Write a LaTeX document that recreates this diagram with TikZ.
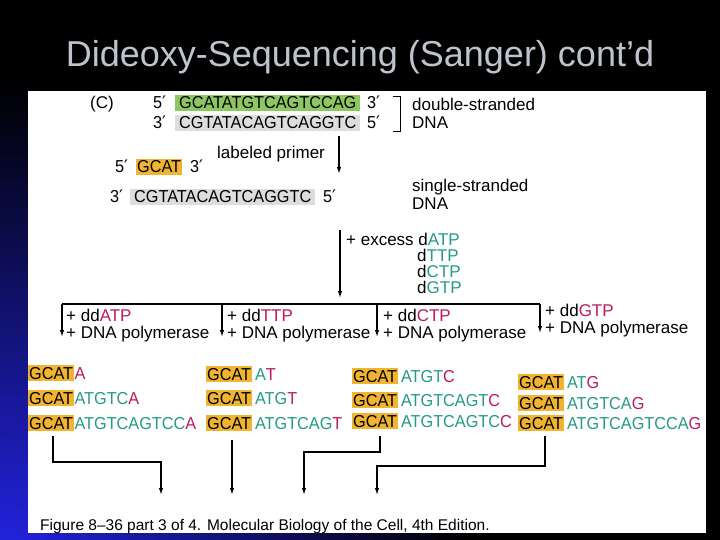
\documentclass[tikz,border=0pt]{standalone}
\usepackage{fontspec}
\setmainfont{Liberation Sans}
\newfontfamily\djv{DejaVu Sans}
\newfontfamily\seqfont[FakeStretch=0.94]{Liberation Sans}
\usetikzlibrary{arrows.meta}
\definecolor{orangeb}{RGB}{240,180,48}
\definecolor{greenb}{RGB}{140,200,95}
\definecolor{grayb}{RGB}{221,221,221}
\definecolor{tealc}{RGB}{35,155,135}
\definecolor{crimc}{RGB}{190,25,95}
\definecolor{titlec}{RGB}{190,195,205}
\definecolor{bgblue}{RGB}{35,35,225}
\newcommand{\seqT}[1]{\textcolor{tealc}{#1}}
\newcommand{\seqC}[1]{\textcolor{crimc}{#1}}
\newcommand{\pr}{{\djv ′}}
\begin{document}
\begin{tikzpicture}[x=1pt,y=-1pt,
  lab/.style={font=\fontsize{17}{17}\selectfont, inner sep=0pt, anchor=base west},
  seqt/.style={font=\seqfont\fontsize{17.3}{17}\selectfont, inner sep=0pt, anchor=base west},
  hbox/.style={seqt, inner xsep=4pt, inner ysep=1.8pt, text height=12.4pt, text depth=0pt},
  gcat/.style={seqt, fill=orangeb, inner xsep=1pt, inner ysep=1.8pt, text height=12.4pt, text depth=0pt},
  arr/.style={draw=black, line width=1.3pt, -{Latex[length=7pt,width=4.5pt]}},
  ln/.style={draw=black, line width=1.3pt},
  titlestyle/.style={font=\fontsize{36}{36}\selectfont, text=titlec, inner sep=0pt, anchor=base}]
\useasboundingbox (0,0) rectangle (720,540);
% background
\fill[black] (0,0) rectangle (720,540);
\begin{scope}
  \clip (0,0) rectangle (720,540);
  \shade[inner color=bgblue, outer color=black] (0,550) circle (470);
\end{scope}
\fill[white] (28,91) rectangle (706,533);
% title
\node[titlestyle] (title) at (360,67) {Dideoxy-Sequencing (Sanger) cont’d};
% top double strand
\node[lab] (C) at (90,109) {(C)};
\node[seqt] (p1) at (153,109) {5\pr};
\node[hbox, fill=greenb] (s1) at (175,109) {GCATATGTCAGTCCAG};
\node[seqt] (p2) at (367,109) {3\pr};
\node[seqt] (p3) at (153,129) {3\pr};
\node[hbox, fill=grayb] (s2) at (175,129) {CGTATACAGTCAGGTC};
\node[seqt] (p4) at (367,129) {5\pr};
\coordinate (br1) at (393,96);
\coordinate (br2) at (400,96);
\coordinate (br3) at (400,131);
\coordinate (br4) at (393,131);
\draw[line width=0.9pt] (br1) -- (br2) -- (br3) -- (br4);
\node[lab] (ds1) at (412,111) {double-stranded};
\node[lab] (ds2) at (412,129) {DNA};
% labeled primer
\node[lab] (lp) at (217,159) {labeled primer};
\coordinate (a1s) at (339,136);
\coordinate (a1e) at (339,174);
\draw[arr] (a1s) -- (a1e);
\node[seqt] (p5) at (115,173) {5\pr};
\node[gcat] (prm) at (136,173) {GCAT};
\node[seqt] (p6) at (190,173) {3\pr};
\node[seqt] (p7) at (110,203) {3\pr};
\node[hbox, fill=grayb] (s3) at (130,203) {CGTATACAGTCAGGTC};
\node[seqt] (p8) at (323,203) {5\pr};
\node[lab] (ss1) at (412,192) {single-stranded};
\node[lab] (ss2) at (412,210) {DNA};
% dNTPs
\coordinate (a2s) at (340,230);
\coordinate (a2e) at (340,298);
\draw[arr] (a2s) -- (a2e);
\node[lab] (ex1) at (346,245) {+ excess d\seqT{ATP}};
\node[lab] (ex2) at (417,261) {d\seqT{TTP}};
\node[lab] (ex3) at (417,277) {d\seqT{CTP}};
\node[lab] (ex4) at (417,293) {d\seqT{GTP}};
% branch
\coordinate (h1) at (62,304);
\coordinate (h2) at (222,304);
\coordinate (h3) at (377,304);
\coordinate (h4) at (540,304);
\coordinate (t1) at (62,337);
\coordinate (t2) at (222,337);
\coordinate (t3) at (377,337);
\coordinate (t4) at (540,333);
\draw[ln] (h1) -- (h4);
\draw[arr] (h1) -- (t1);
\draw[arr] (h2) -- (t2);
\draw[arr] (h3) -- (t3);
\draw[arr] (h4) -- (t4);
\node[lab] (la1) at (66,321) {+ dd\seqC{ATP}};
\node[lab] (lb1) at (66,338) {+ DNA polymerase};
\node[lab] (la2) at (227,321) {+ dd\seqC{TTP}};
\node[lab] (lb2) at (227,338) {+ DNA polymerase};
\node[lab] (la3) at (383,321) {+ dd\seqC{CTP}};
\node[lab] (lb3) at (383,338) {+ DNA polymerase};
\node[lab] (la4) at (545,316) {+ dd\seqC{GTP}};
\node[lab] (lb4) at (545,333) {+ DNA polymerase};
% column 1
\node[gcat] (g11) at (28,379) {GCAT};
\node[seqt] (e11) at (g11.base east) {\seqC{A}};
\node[gcat] (g12) at (28,404) {GCAT};
\node[seqt] (e12) at (g12.base east) {\seqT{ATGTC}\seqC{A}};
\node[gcat] (g13) at (28,429) {GCAT};
\node[seqt] (e13) at (g13.base east) {\seqT{ATGTCAGTCC}\seqC{A}};
% column 2
\node[gcat] (g21) at (206,380) {GCAT};
\node[seqt] (e21) at ([xshift=2.5pt]g21.base east) {\seqT{A}\seqC{T}};
\node[gcat] (g22) at (206,404) {GCAT};
\node[seqt] (e22) at ([xshift=2.5pt]g22.base east) {\seqT{ATG}\seqC{T}};
\node[gcat] (g23) at (206,429) {GCAT};
\node[seqt] (e23) at ([xshift=2.5pt]g23.base east) {\seqT{ATGTCAG}\seqC{T}};
% column 3
\node[gcat] (g31) at (352,382) {GCAT};
\node[seqt] (e31) at ([xshift=2.5pt]g31.base east) {\seqT{ATGT}\seqC{C}};
\node[gcat] (g32) at (352,406) {GCAT};
\node[seqt] (e32) at ([xshift=2.5pt]g32.base east) {\seqT{ATGTCAGT}\seqC{C}};
\node[gcat] (g33) at (352,427) {GCAT};
\node[seqt] (e33) at ([xshift=2.5pt]g33.base east) {\seqT{ATGTCAGTC}\seqC{C}};
% column 4
\node[gcat] (g41) at (518,388) {GCAT};
\node[seqt] (e41) at ([xshift=2.5pt]g41.base east) {\seqT{AT}\seqC{G}};
\node[gcat] (g42) at (518,409) {GCAT};
\node[seqt] (e42) at ([xshift=2.5pt]g42.base east) {\seqT{ATGTCA}\seqC{G}};
\node[gcat] (g43) at (518,429) {GCAT};
\node[seqt] (e43) at ([xshift=2.5pt]g43.base east) {\seqT{ATGTCAGTCCA}\seqC{G}};
% bottom arrows
\coordinate (u1) at (53,436);
\coordinate (u1b) at (53,462);
\coordinate (u1c) at (161,462);
\coordinate (u1d) at (161,495);
\draw[arr] (u1) -- (u1b) -- (u1c) -- (u1d);
\coordinate (u2) at (232,440);
\coordinate (u2d) at (232,495);
\draw[arr] (u2) -- (u2d);
\coordinate (u3) at (380,436);
\coordinate (u3b) at (380,452);
\coordinate (u3c) at (304,452);
\coordinate (u3d) at (304,495);
\draw[arr] (u3) -- (u3b) -- (u3c) -- (u3d);
\coordinate (u4) at (545,436);
\coordinate (u4b) at (545,466);
\coordinate (u4c) at (377,466);
\coordinate (u4d) at (377,495);
\draw[arr] (u4) -- (u4b) -- (u4c) -- (u4d);
% caption
\node[font=\fontsize{15.5}{15.5}\selectfont, inner sep=0pt, anchor=base west] (cap) at (40,530) {Figure 8–36 part 3 of 4. Molecular Biology of the Cell, 4th Edition.};
\end{tikzpicture}
\end{document}
